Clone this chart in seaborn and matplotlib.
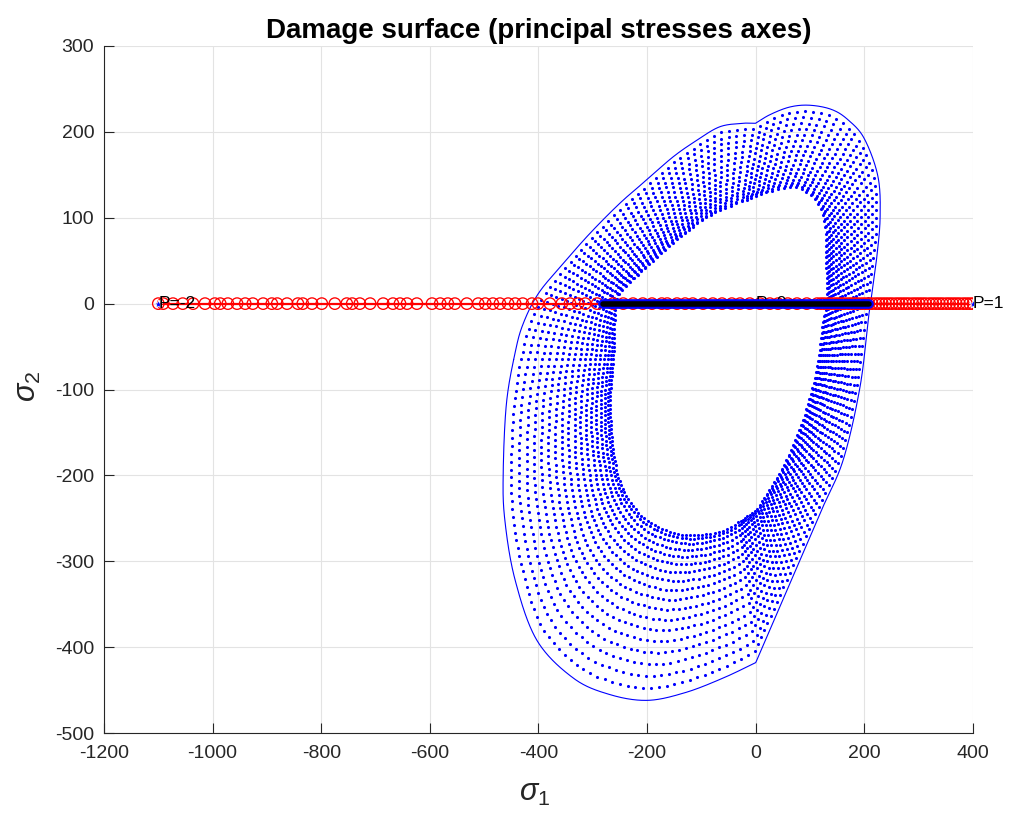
import numpy as np
import pandas as pd
import matplotlib
matplotlib.use("Agg")
import matplotlib.pyplot as plt
import seaborn as sns

# ---------------- data ----------------
# outer (solid) damage surface boundary, sigma1 / sigma2 (counter-clockwise);
# repeated points mark the two corners of the surface
outer_x = [213, 223, 229, 225, 200, 170, 140, 100, 63, 26, 0, 0, -23, -66, -109, -152, -201,
           -250, -305, -354, -400, -428, -443, -459, -465, -462, -443, -403, -336, -270, -200,
           -130, -60, 0, 0, 60, 120, 161, 192, 207]
outer_y = [8, 55, 101, 148, 192, 214, 226, 231, 229, 220, 210, 210, 210, 206, 190, 171, 144,
           117, 82, 47, 12, -23, -57, -116, -197, -252, -322, -392, -436, -455, -462,
           -453, -436, -418, -418, -330, -242, -182, -97, -19]
# innermost dotted surface (counter-clockwise)
inner_x = [130, 130, 128, 118, 105, 75, 32, -17, -79, -139, -201, -250, -260, -262, -268,
           -262, -244, -201, -134, -60, 2, 2, 50, 87, 112, 124]
inner_y = [0, 50, 90, 113, 124, 136, 132, 121, 105, 78, 43, 12, -19, -57, -116,
           -174, -217, -252, -269, -264, -240, -240, -190, -135, -77, -19]
n_surfaces = 18          # dotted surfaces between inner and outer
n_points = 190           # points per surface

# loading path (red circles)
red_x = [-1100, -1091, -1073, -1055, -1036, -1014, -996, -986, -972, -955, -940, -926, -907,
         -891, -881, -863, -843, -834, -817, -799, -775, -753, -743, -729, -710, -686, -668,
         -655, -642, -624, -596, -581, -567, -554, -532, -511, -498, -484, -471, -456, -443,
         -429, -412, -401, -379, -357, -342, -327, -314, -292, -263, -244, -226, -208, -191,
         -173, -163, -145, -130, -116, -97, -79, -62, -44, -29, -11, 8, 26, 41, 59, 76, 94,
         113, 120, 126, 133, 139, 146, 152, 158, 164, 171, 177, 183, 189, 196, 202, 208, 214,
         221, 227, 233, 239, 245, 251, 258, 264, 270, 276, 282, 289, 295, 301, 307, 313, 320,
         326, 332, 338, 344, 351, 357, 363, 369, 375, 382, 388, 394, 400]
red_y = [0] * len(red_x)
# elastic segment (black) and end markers
seg_x = [-281, 208]
seg_y = [0, 0]
end_x = [-1100, 400]
end_y = [0, 0]
labels = ["P=-2", "P=0", "P=1"]
label_x = [-1100, 0, 400]
label_y = [0, 0, 0]

x_ticks = [-1200, -1000, -800, -600, -400, -200, 0, 200, 400]
y_ticks = [-500, -400, -300, -200, -100, 0, 100, 200, 300]

# ---------------- build surfaces ----------------
CX, CY = -70.0, -65.0
SX, SY = 869 / 1600, 687 / 800


def closed_spline(xs, ys, n_per=60):
    P = np.stack([(np.asarray(xs, float) - CX) * SX,
                  (np.asarray(ys, float) - CY) * SY], 1)
    N = len(P)
    t = np.linspace(0, 1, n_per, endpoint=False)[:, None]
    out = []
    for i in range(N):
        p0, p1, p2, p3 = P[(i - 1) % N], P[i], P[(i + 1) % N], P[(i + 2) % N]
        if np.allclose(p1, p2):
            continue  # corner: no segment between the repeated points
        out.append(0.5 * (2 * p1 + (-p0 + p2) * t + (2 * p0 - 5 * p1 + 4 * p2 - p3) * t ** 2
                          + (-p0 + 3 * p1 - 3 * p2 + p3) * t ** 3))
    return np.vstack(out)


def profile(xs, ys, th_grid):
    c = closed_spline(xs, ys)
    th = np.arctan2(c[:, 1], c[:, 0])
    r = np.hypot(c[:, 0], c[:, 1])
    th, idx = np.unique(th, return_index=True)
    r = r[idx]
    th_e = np.concatenate([th - 2 * np.pi, th, th + 2 * np.pi])
    r_e = np.tile(r, 3)
    return np.interp(th_grid, th_e, r_e)


th_f = np.linspace(-np.pi, np.pi, 4001)
ro_f = profile(outer_x, outer_y, th_f)
uo, vo = ro_f * np.cos(th_f), ro_f * np.sin(th_f)
s = np.concatenate([[0], np.cumsum(np.hypot(np.diff(uo), np.diff(vo)))])
th_sel = np.interp(np.linspace(0, s[-1], n_points, endpoint=False), s, th_f)
r_in = profile(inner_x, inner_y, th_sel)
r_out = profile(outer_x, outer_y, th_sel)

dots = []
for k in range(n_surfaces):
    f = (k / n_surfaces) ** 1.35
    r = r_in + f * (r_out - r_in)
    dots.append(pd.DataFrame({"s1": CX + r * np.cos(th_sel) / SX,
                              "s2": CY + r * np.sin(th_sel) / SY}))
dots = pd.concat(dots, ignore_index=True)
outer_df = pd.DataFrame({"s1": CX + uo / SX, "s2": CY + vo / SY})

# ---------------- plot ----------------
sns.set_style("whitegrid")
plt.rcParams["font.family"] = ["Liberation Sans", "DejaVu Sans"]
plt.rcParams["mathtext.fontset"] = "custom"
plt.rcParams["mathtext.it"] = "Liberation Sans:italic"
plt.rcParams["mathtext.rm"] = "Liberation Sans"

fig = plt.figure(figsize=(10.09, 8.17), dpi=100)
ax = fig.add_axes([104 / 1009, 1 - 733 / 817, 869 / 1009, 687 / 817])

sns.scatterplot(data=dots, x="s1", y="s2", ax=ax, color=(0, 0, 1), s=5,
                linewidth=0, legend=False, zorder=2)
sns.lineplot(data=outer_df, x="s1", y="s2", ax=ax, sort=False, estimator=None,
             color=(0, 0, 1), lw=0.8, zorder=3)

sns.lineplot(x=red_x, y=red_y, ax=ax, sort=False, estimator=None,
             color=(1, 0, 0), lw=1.6, zorder=4)
sns.scatterplot(x=red_x, y=red_y, ax=ax, marker="o", s=68, facecolor="none",
                edgecolor=(1, 0, 0), linewidth=0.95, legend=False, zorder=5)
sns.scatterplot(x=end_x, y=end_y, ax=ax, marker="*", s=40, color=(0, 0, 1),
                linewidth=0.5, legend=False, zorder=6)

for t, tx, ty in zip(labels, label_x, label_y):
    ax.text(tx, ty, t, ha="left", va="center", fontsize=12.5, color="black", zorder=7)

sns.lineplot(x=seg_x, y=seg_y, ax=ax, sort=False, estimator=None,
             color=(0, 0, 1), lw=7, zorder=8)
sns.lineplot(x=seg_x, y=seg_y, ax=ax, sort=False, estimator=None,
             color="black", lw=4, zorder=9)

ax.set_xlim(-1200, 400)
ax.set_ylim(-500, 300)
ax.set_xticks(x_ticks)
ax.set_yticks(y_ticks)
ax.set_xticklabels([str(v) for v in x_ticks])
ax.set_yticklabels([str(v) for v in y_ticks])
ax.tick_params(axis="both", direction="in", length=7, width=0.8, colors="#262626",
               labelsize=14, left=True, bottom=True)
ax.tick_params(axis="y", pad=7)
ax.tick_params(axis="x", pad=9)
ax.grid(True, color="#e3e3e3", lw=0.8)
for side in ["top", "right"]:
    ax.spines[side].set_visible(False)
for side in ["left", "bottom"]:
    ax.spines[side].set_visible(True)
    ax.spines[side].set_color("#262626")
    ax.spines[side].set_linewidth(0.8)

ax.set_xlabel(r"$\sigma_1$", fontsize=22, color="#262626")
ax.set_ylabel(r"$\sigma_2$", fontsize=22, color="#262626")
ax.xaxis.set_label_coords(0.496, -0.066)
ax.yaxis.set_label_coords(-0.07, 0.505)
ax.set_title("Damage surface (principal stresses axes)", fontsize=20,
             fontweight="bold", color="black", pad=6)

fig.savefig("out.png", dpi=100)
